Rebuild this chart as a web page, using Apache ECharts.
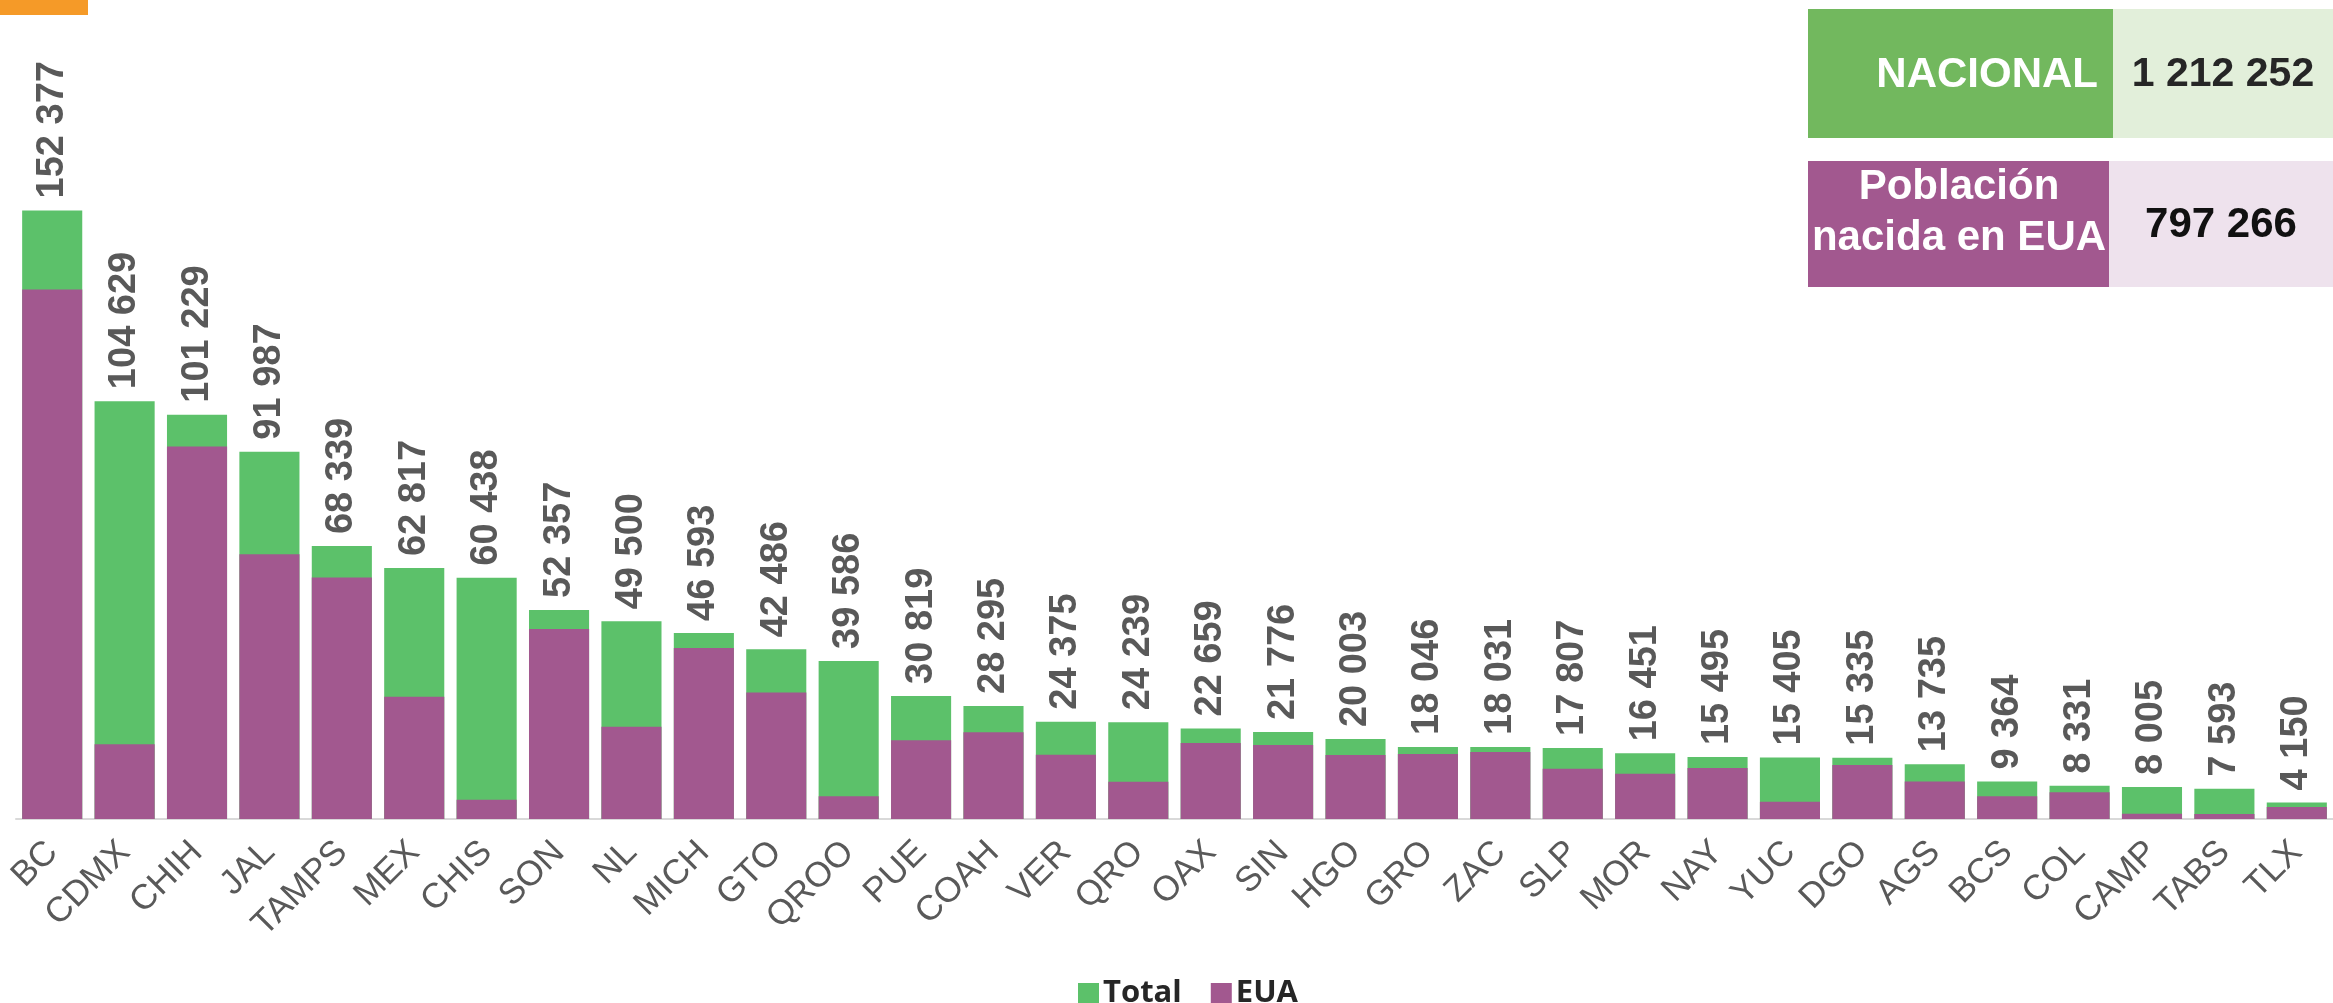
<!DOCTYPE html>
<html>
<head>
<meta charset="utf-8">
<script src="https://cdn.jsdelivr.net/npm/echarts@6/dist/echarts.min.js"></script>
<style>
html,body{margin:0;padding:0;background:#fff;}
#chart{width:2333px;height:1003px;}
</style>
</head>
<body>
<div id="chart"></div>
<script>
const categories = ['BC','CDMX','CHIH','JAL','TAMPS','MEX','CHIS','SON','NL','MICH','GTO','QROO','PUE','COAH','VER','QRO','OAX','SIN','HGO','GRO','ZAC','SLP','MOR','NAY','YUC','DGO','AGS','BCS','COL','CAMP','TABS','TLX'];
const totalValues = [152377,104629,101229,91987,68339,62817,60438,52357,49500,46593,42486,39586,30819,28295,24375,24239,22659,21776,20003,18046,18031,17807,16451,15495,15405,15335,13735,9364,8331,8005,7593,4150];
const euaValues = [132600,18700,93300,66300,60500,30600,4800,47600,23100,42800,31700,5700,19700,21700,16100,9300,19000,18500,16000,16300,16800,12600,11300,12800,4300,13500,9400,5700,6700,1300,1250,3000];
const nationalLabel = 'NACIONAL';
const nationalTotal = 1212252;
const euaLabel = 'Población\nnacida en EUA';
const euaTotal = 797266;
const seriesNames = ['Total','EUA'];

function fmt(v){ return String(v).replace(/\B(?=(\d{3})+(?!\d))/g,' '); }

const GREEN = '#5CC16A', PURPLE = '#A2588F';
const chart = echarts.init(document.getElementById('chart'), null, {renderer:'canvas'});
chart.setOption({
  animation:false,
  backgroundColor:'#ffffff',
  grid:{left:16, right:-11, top:180, bottom:184, containLabel:false},
  legend:{
    data:seriesNames, left:1073, top:973, itemWidth:21, itemHeight:21, itemGap:29,
    icon:'rect',
    textStyle:{fontFamily:'Open Sans', fontWeight:'bold', fontSize:31, color:'#262626', padding:[0,0,0,-1]}
  },
  xAxis:{
    type:'category', data:categories,
    axisLine:{lineStyle:{color:'#d9d9d9', width:2}},
    axisTick:{show:false},
    axisLabel:{rotate:45, interval:0, margin:28, color:'#595959', fontFamily:'Liberation Sans, Arial', fontSize:35}
  },
  yAxis:{type:'value', min:0, max:160000, show:false, splitLine:{show:false}},
  series:[
    {
      name:'Total', type:'bar', data:totalValues, barCategoryGap:'17%', barGap:'-100%',
      itemStyle:{color:GREEN},
      label:{show:true, position:'top', rotate:90, align:'left', verticalAlign:'middle', distance:12,
        formatter:p=>fmt(p.value), color:'#595959', fontFamily:'Liberation Sans, Arial', fontWeight:'bold', fontSize:38}
    },
    {
      name:'EUA', type:'bar', data:euaValues, barCategoryGap:'17%', barGap:'-100%',
      itemStyle:{color:PURPLE}
    }
  ],
  graphic:[
    {type:'rect', left:0, top:0, shape:{width:88, height:15}, style:{fill:'#F59A28'}},
    {type:'rect', left:1808, top:9, shape:{width:305, height:129}, style:{fill:'#72B85E'}},
    {type:'rect', left:2113, top:9, shape:{width:220, height:129}, style:{fill:'#E2EFDA'}},
    {type:'rect', left:1808, top:161, shape:{width:301, height:126}, style:{fill:'#A2588F'}},
    {type:'rect', left:2109, top:161, shape:{width:224, height:126}, style:{fill:'#EEE2ED'}},
    {type:'text', x:2098, y:75, style:{text:nationalLabel, fill:'#ffffff', font:'bold 42px "Liberation Sans", Arial', textAlign:'right', textVerticalAlign:'middle'}},
    {type:'text', x:2223, y:75, style:{text:fmt(nationalTotal), fill:'#262626', font:'bold 41px "Liberation Sans", Arial', textAlign:'center', textVerticalAlign:'middle'}},
    {type:'text', x:1959, y:213, style:{text:euaLabel, fill:'#ffffff', font:'bold 42px "Liberation Sans", Arial', textAlign:'center', textVerticalAlign:'middle', lineHeight:51}},
    {type:'text', x:2221, y:225, style:{text:fmt(euaTotal), fill:'#111111', font:'bold 42px "Liberation Sans", Arial', textAlign:'center', textVerticalAlign:'middle'}}
  ]
});
</script>
</body>
</html>
